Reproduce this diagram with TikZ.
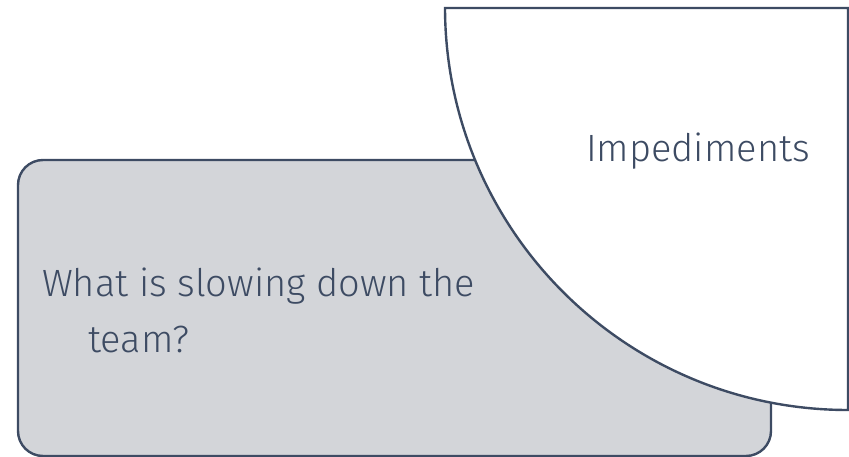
\documentclass[tikz,border=0pt]{standalone}
\usepackage{fontspec}
\setmainfont{Fira Sans}[UprightFont=* Light]
\usepackage{tikz}
\usetikzlibrary{positioning}
\usepackage{xcolor}
\definecolor{slate}{RGB}{61,75,99}
\definecolor{panelgray}{RGB}{211,213,217}

\begin{document}
\begin{tikzpicture}[x=1pt,y=-1pt]
\useasboundingbox (0,0) rectangle (849,457);
\draw[draw=slate,fill=panelgray,line width=2.4pt,rounded corners=25pt] (18,160) rectangle (771,456);
\node[anchor=base west,text=slate,font=\fontsize{38}{55}\selectfont,align=left,inner sep=0pt] (question) at (42,352) {What is slowing down the\\\hspace*{46pt}team?};
\draw[draw=slate,fill=white,line width=2.4pt] (445,8) -- (848,8) -- (848,410) arc[start angle=90,end angle=180,radius=403] -- cycle;
\node[anchor=base east,text=slate,font=\fontsize{38}{55}\selectfont,inner sep=0pt] (impediments) at (810,162) {Impediments};
\end{tikzpicture}
\end{document}
